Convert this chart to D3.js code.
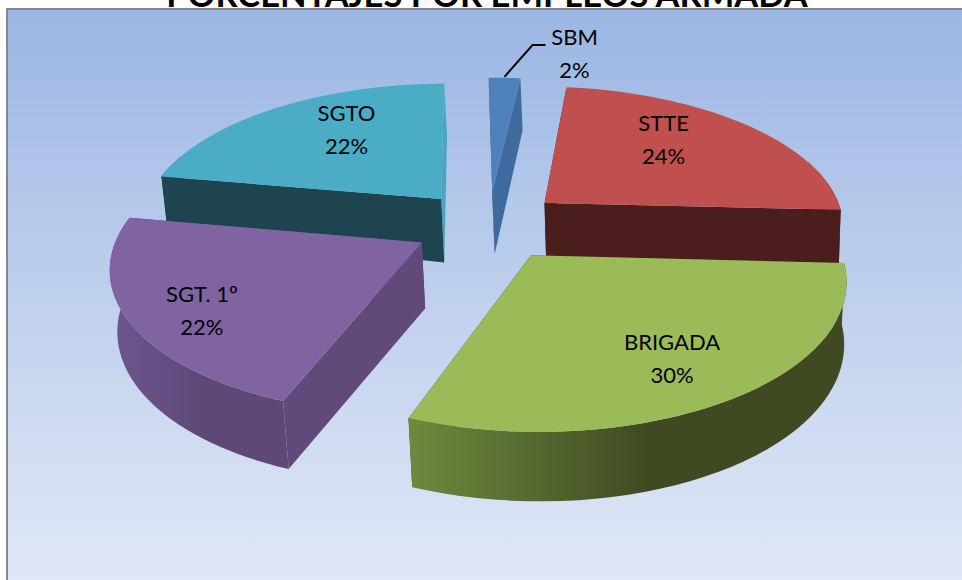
<!DOCTYPE html>
<html><head><meta charset="utf-8">
<script src="https://cdn.jsdelivr.net/npm/d3@7"></script>
<style>html,body{margin:0;padding:0;background:#fff;overflow:hidden}svg{display:block}text{font-family:Lato,"Open Sans",sans-serif;fill:#000}</style>
</head><body><div id="c"></div>
<script>
// Data
const titleText = "PORCENTAJES POR EMPLEOS ARMADA";
const categories = ["STTE","BRIGADA","SGT. 1º","SGTO","SBM"];
const values = [24,30,22,22,2];
const topColors = ["#c0504d","#9bbb59","#8064a2","#4bacc6","#4f81bd"];
const startWallColors = ["#4b1e1e","#3f4b23","#614a7a","#1e4450","#3e6a9e"];
const endWallColors = ["#4b1e1e","#3f4b23","#614a7a","#4aa5be","#3e6a9e"];
// Rim shading, left to right across each slice
const rimStops = [["#4b1e1e","#4b1e1e"],["#6e8a3d","#3f4a22"],["#6e5590","#5e4877"],["#1e4450","#1e4450"],["#3e6a9e","#3e6a9e"]];
// Layout
const W=962,H=580;
const cx=488.5,cy=225,Rx=301,Ry=140,persp=.15,depthY=60.5,depthW=.013,depthX=2.5,apexExtra=7,explode=.25;
const startDeg=6.5;
const rimVisibleCos=.35;
const drawOrder=["SBM","SGTO","STTE","SGT. 1º","BRIGADA"];
const labelNudge={ "STTE":[-9,-13],"BRIGADA":[23,18.5],"SGT. 1º":[-43,21],"SGTO":[12,-12],"SBM":[1,0] };
const labelFrac=.62;

const svg=d3.select("#c").append("svg").attr("width",W).attr("height",H);
const defs=svg.append("defs");
const bg=defs.append("linearGradient").attr("id","bg").attr("x1",0).attr("y1",0).attr("x2",0).attr("y2",1);
bg.append("stop").attr("offset",0).attr("stop-color","#9bb6e3");
bg.append("stop").attr("offset",.55).attr("stop-color","#c3d3ee");
bg.append("stop").attr("offset",1).attr("stop-color","#e1e8f6");

svg.append("rect").attr("x",7).attr("y",9).attr("width",W).attr("height",H).attr("fill","url(#bg)").attr("stroke","#868686").attr("stroke-width",2);

svg.append("text").attr("x",487).attr("y",7).attr("text-anchor","middle").attr("font-size",34.5).attr("font-weight",700).text(titleText);

const pie=d3.pie().sort(null).startAngle(startDeg*Math.PI/180).endAngle((startDeg+360)*Math.PI/180);
const arcs=pie(values).map((d,i)=>({...d,name:categories[i],i}));

function project(u,v,down){
  const w=1-persp*v+(down?depthW:0);
  const extra=down?apexExtra*Math.max(0,1-Math.hypot(u,v)):0;
  return [cx+Rx*u/w+(down?depthX:0), cy+(Ry*v+(down?depthY+extra:0))/w];
}
const plane=(a,r)=>[r*Math.sin(a),-r*Math.cos(a)];
const line=d3.line().curve(d3.curveLinear);

function geom(d){
  const mid=(d.startAngle+d.endAngle)/2;
  const o=plane(mid,explode);
  const angles=d3.range(0,41).map(k=>d.startAngle+(d.endAngle-d.startAngle)*k/40);
  const pts=angles.map(a=>{
    const p=plane(a,1);return [p[0]+o[0],p[1]+o[1]];
  });
  return {o,pts,mid,angles};
}
const P=(p,down)=>project(p[0],p[1],down);

const g=svg.append("g");
drawOrder.forEach(name=>{
  const d=arcs.find(a=>a.name===name), {o,pts,angles}=geom(d);
  const sg=g.append("g");
  const first=pts[0],last=pts[pts.length-1];
  const wall=(a,b)=>line([P(a),P(b),P(b,true),P(a,true)])+"Z";
  sg.append("path").attr("d",wall(o,last)).attr("fill",endWallColors[d.i]);
  sg.append("path").attr("d",wall(o,first)).attr("fill",startWallColors[d.i]);
  // rim: only the part turned towards the viewer
  const front=pts.filter((p,k)=>Math.cos(angles[k])<rimVisibleCos);
  if(front.length>1){
    const xs=front.map(p=>P(p)[0]);
    const id="rim"+d.i;
    const gr=defs.append("linearGradient").attr("id",id).attr("gradientUnits","userSpaceOnUse")
      .attr("x1",d3.min(xs)).attr("x2",d3.min(xs)+(d3.max(xs)-d3.min(xs))*.55).attr("y1",0).attr("y2",0);
    gr.append("stop").attr("offset",0).attr("stop-color",rimStops[d.i][0]);
    gr.append("stop").attr("offset",1).attr("stop-color",rimStops[d.i][1]);
    const rim=front.map(p=>P(p)).concat(front.slice().reverse().map(p=>P(p,true)));
    sg.append("path").attr("d",line(rim)+"Z").attr("fill",`url(#${id})`);
  }
  // top
  sg.append("path").attr("d",line([P(o),...pts.map(p=>P(p))])+"Z").attr("fill",topColors[d.i]);
});

// Labels
arcs.forEach(d=>{
  const {o,mid}=geom(d);
  const p=plane(mid,labelFrac);
  let [x,y]=project(o[0]+p[0],o[1]+p[1]);
  const n=labelNudge[d.name];
  x+=n[0];y+=n[1];
  if(d.name==="SBM"){
    const t=P(plane(mid,1).map((q,i)=>q+o[i]));
    x=t[0]+70;y=53;
    svg.append("path").attr("d",line([[t[0],t[1]-1],[t[0]+28,45],[t[0]+41,45]])).attr("fill","none").attr("stroke","#000").attr("stroke-width",2);
  }
  const tx=svg.append("text").attr("text-anchor","middle").attr("font-size",22);
  tx.append("tspan").attr("x",x).attr("y",y-8).text(d.name);
  tx.append("tspan").attr("x",x).attr("y",y+25).text(d.value+"%");
});
</script></body></html>
